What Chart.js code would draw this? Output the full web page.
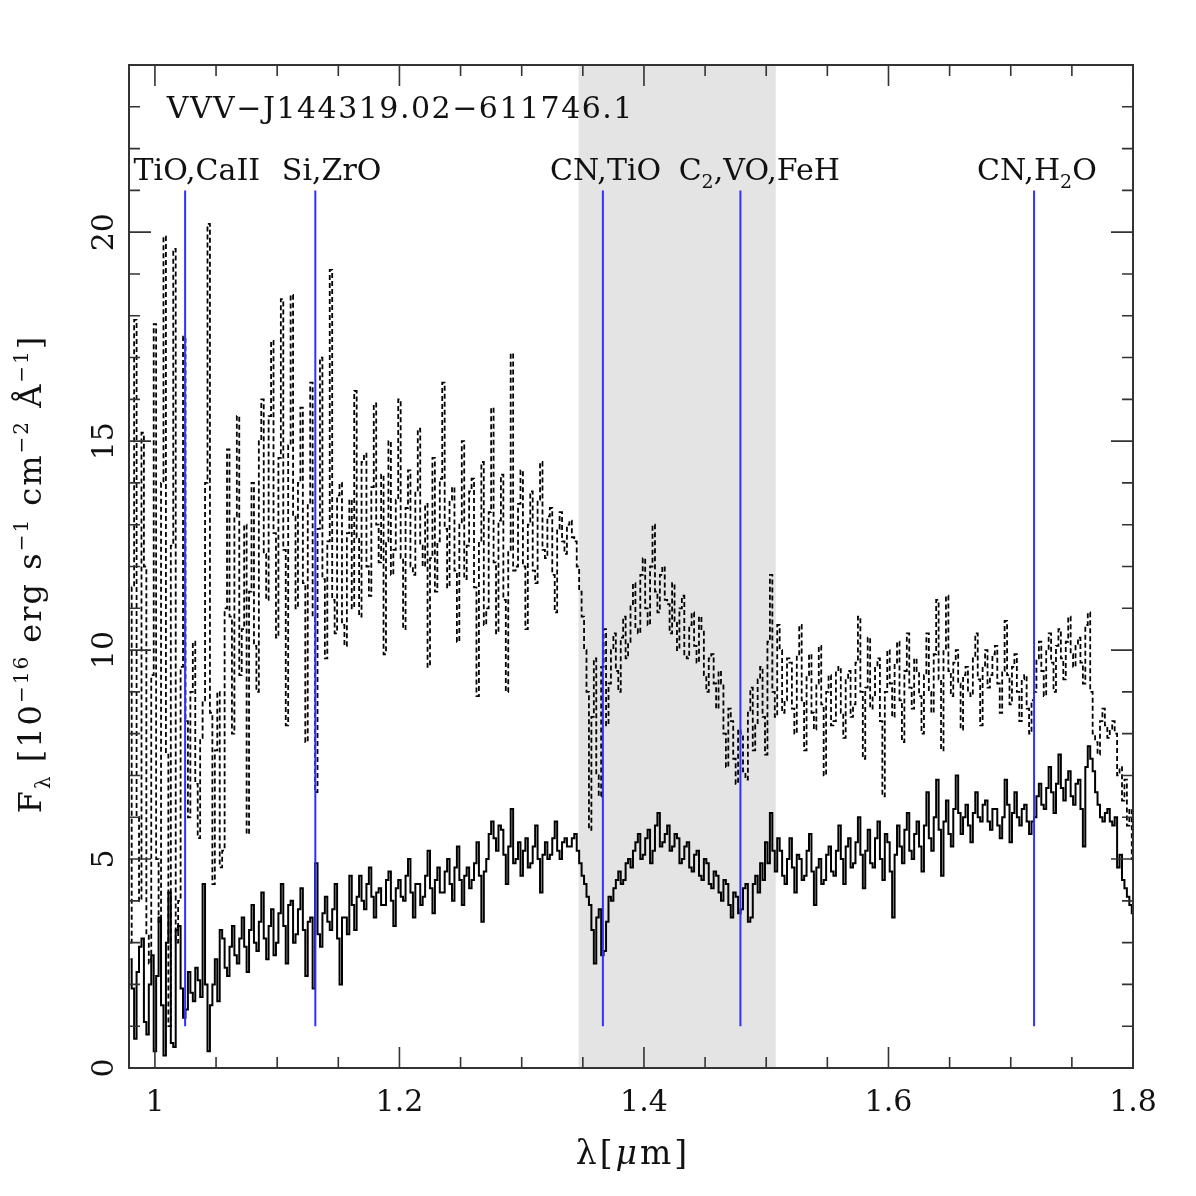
<!DOCTYPE html>
<html>
<head>
<meta charset="utf-8">
<script src="https://cdn.jsdelivr.net/npm/chart.js@4.4.1/dist/chart.umd.min.js"></script>
<style>
  html, body { margin:0; background:#fff; }
  canvas { display:block; }
</style>
</head>
<body>
<canvas id="spec" width="1196" height="1196"></canvas>
<script>
// ====== data (0.002 um bins) ======
const wavelength = [
  0.980,0.982,0.984,0.986,0.988,0.990,0.992,0.994,0.996,0.998,
  1.000,1.002,1.004,1.006,1.008,1.010,1.012,1.014,1.016,1.018,
  1.020,1.022,1.024,1.026,1.028,1.030,1.032,1.034,1.036,1.038,
  1.040,1.042,1.044,1.046,1.048,1.050,1.052,1.054,1.056,1.058,
  1.060,1.062,1.064,1.066,1.068,1.070,1.072,1.074,1.076,1.078,
  1.080,1.082,1.084,1.086,1.088,1.090,1.092,1.094,1.096,1.098,
  1.100,1.102,1.104,1.106,1.108,1.110,1.112,1.114,1.116,1.118,
  1.120,1.122,1.124,1.126,1.128,1.130,1.132,1.134,1.136,1.138,
  1.140,1.142,1.144,1.146,1.148,1.150,1.152,1.154,1.156,1.158,
  1.160,1.162,1.164,1.166,1.168,1.170,1.172,1.174,1.176,1.178,
  1.180,1.182,1.184,1.186,1.188,1.190,1.192,1.194,1.196,1.198,
  1.200,1.202,1.204,1.206,1.208,1.210,1.212,1.214,1.216,1.218,
  1.220,1.222,1.224,1.226,1.228,1.230,1.232,1.234,1.236,1.238,
  1.240,1.242,1.244,1.246,1.248,1.250,1.252,1.254,1.256,1.258,
  1.260,1.262,1.264,1.266,1.268,1.270,1.272,1.274,1.276,1.278,
  1.280,1.282,1.284,1.286,1.288,1.290,1.292,1.294,1.296,1.298,
  1.300,1.302,1.304,1.306,1.308,1.310,1.312,1.314,1.316,1.318,
  1.320,1.322,1.324,1.326,1.328,1.330,1.332,1.334,1.336,1.338,
  1.340,1.342,1.344,1.346,1.348,1.350,1.352,1.354,1.356,1.358,
  1.360,1.362,1.364,1.366,1.368,1.370,1.372,1.374,1.376,1.378,
  1.380,1.382,1.384,1.386,1.388,1.390,1.392,1.394,1.396,1.398,
  1.400,1.402,1.404,1.406,1.408,1.410,1.412,1.414,1.416,1.418,
  1.420,1.422,1.424,1.426,1.428,1.430,1.432,1.434,1.436,1.438,
  1.440,1.442,1.444,1.446,1.448,1.450,1.452,1.454,1.456,1.458,
  1.460,1.462,1.464,1.466,1.468,1.470,1.472,1.474,1.476,1.478,
  1.480,1.482,1.484,1.486,1.488,1.490,1.492,1.494,1.496,1.498,
  1.500,1.502,1.504,1.506,1.508,1.510,1.512,1.514,1.516,1.518,
  1.520,1.522,1.524,1.526,1.528,1.530,1.532,1.534,1.536,1.538,
  1.540,1.542,1.544,1.546,1.548,1.550,1.552,1.554,1.556,1.558,
  1.560,1.562,1.564,1.566,1.568,1.570,1.572,1.574,1.576,1.578,
  1.580,1.582,1.584,1.586,1.588,1.590,1.592,1.594,1.596,1.598,
  1.600,1.602,1.604,1.606,1.608,1.610,1.612,1.614,1.616,1.618,
  1.620,1.622,1.624,1.626,1.628,1.630,1.632,1.634,1.636,1.638,
  1.640,1.642,1.644,1.646,1.648,1.650,1.652,1.654,1.656,1.658,
  1.660,1.662,1.664,1.666,1.668,1.670,1.672,1.674,1.676,1.678,
  1.680,1.682,1.684,1.686,1.688,1.690,1.692,1.694,1.696,1.698,
  1.700,1.702,1.704,1.706,1.708,1.710,1.712,1.714,1.716,1.718,
  1.720,1.722,1.724,1.726,1.728,1.730,1.732,1.734,1.736,1.738,
  1.740,1.742,1.744,1.746,1.748,1.750,1.752,1.754,1.756,1.758,
  1.760,1.762,1.764,1.766,1.768,1.770,1.772,1.774,1.776,1.778,
  1.780,1.782,1.784,1.786,1.788,1.790,1.792,1.794,1.796,1.798,
  1.800
];

// lower spectrum (solid)
const fluxSolid = [
  2.6,1.9,0.7,2.3,2.9,3.1,1.1,0.8,2.0,2.7,
  0.4,2.2,3.6,1.5,0.3,3.0,4.2,0.6,0.5,3.3,
  3.4,1.9,1.2,1.4,2.3,1.8,1.6,2.4,2.1,1.7,
  4.4,2.0,0.4,1.5,2.0,2.6,1.6,3.3,3.1,2.4,
  2.2,2.9,3.4,2.7,2.5,3.1,3.6,2.9,2.3,3.3,
  3.9,3.0,2.8,3.5,4.2,3.1,2.6,3.4,3.8,2.7,
  3.0,3.7,4.4,3.4,2.5,3.9,4.0,3.0,3.2,3.8,
  4.3,3.3,2.2,3.5,3.6,1.9,4.9,3.2,2.9,3.7,
  4.1,3.5,3.3,3.8,4.4,3.1,2.0,3.6,3.6,3.2,
  4.6,3.9,3.3,4.1,4.6,4.0,3.8,4.4,4.8,4.1,
  3.6,4.2,4.3,3.9,3.9,4.5,4.7,4.0,3.4,4.3,
  4.5,4.1,4.0,4.6,5.0,4.2,3.6,4.4,4.4,3.9,
  4.1,4.6,5.2,4.3,3.7,4.5,4.8,4.2,4.2,4.7,
  5.0,4.4,4.0,4.8,5.3,4.5,3.9,4.6,4.8,4.3,
  4.5,4.9,5.4,4.6,3.5,4.7,5.0,5.6,5.9,5.5,
  5.2,5.8,5.7,5.1,4.4,5.3,6.2,4.9,5.0,5.4,
  4.6,5.2,5.5,4.8,4.9,5.3,5.8,5.0,4.2,5.1,
  5.4,5.0,5.1,5.5,5.9,5.2,5.0,5.4,5.5,5.3,
  5.3,5.5,5.6,5.2,4.9,4.6,4.4,4.1,3.9,3.3,
  2.5,3.6,3.8,2.7,2.8,3.5,4.1,4.0,4.3,4.5,
  4.7,4.4,4.5,4.9,5.0,4.8,5.2,5.4,5.6,5.0,
  5.1,5.5,5.7,4.9,5.2,5.8,6.1,5.3,5.4,5.6,
  5.8,5.2,5.3,5.6,5.5,4.9,5.0,5.3,5.4,4.8,
  4.7,5.1,5.2,4.6,4.5,5.0,4.9,4.4,4.3,4.7,
  4.6,4.2,4.0,4.5,4.4,3.9,3.6,4.2,4.1,3.7,
  3.8,4.3,4.4,3.5,3.6,4.4,4.6,4.2,4.9,4.5,
  5.4,4.9,6.1,5.2,4.7,5.5,5.2,4.6,4.4,5.0,
  5.5,4.8,4.2,5.1,5.0,4.5,4.6,5.2,5.6,4.7,
  3.9,4.8,5.0,4.4,4.5,5.1,5.3,4.7,4.6,5.2,
  5.8,5.0,4.4,5.3,5.5,4.8,4.9,5.4,6.0,5.1,
  4.3,5.2,5.7,4.9,4.8,5.5,5.9,5.0,4.5,5.6,
  5.4,4.7,3.6,5.1,5.8,5.3,4.9,5.7,6.1,5.2,
  5.0,5.6,5.9,5.3,4.7,5.8,6.6,5.5,5.2,6.0,
  6.9,5.7,4.6,5.9,6.4,5.6,5.3,6.2,7.0,6.1,
  5.6,6.0,6.3,5.8,5.4,6.1,6.6,6.0,5.9,6.3,
  6.4,5.9,5.7,6.2,6.2,5.8,5.5,6.0,6.9,6.3,
  5.4,6.1,6.6,6.0,5.8,6.2,6.3,5.9,5.6,5.9,
  6.0,6.5,6.8,6.3,6.2,6.7,7.2,6.6,6.1,6.8,
  7.5,6.7,6.4,6.9,7.1,6.5,6.3,6.8,6.9,6.2,
  5.3,7.2,7.7,7.4,7.1,6.6,6.3,6.0,5.9,6.1,
  6.2,5.9,5.8,6.0,4.8,5.1,4.5,4.3,4.1,3.9,
  3.7
];

// upper spectrum (dashed)
const fluxDashed = [
  3.0,11.5,17.9,6.0,4.0,15.2,12.0,3.2,2.5,9.4,
  17.8,5.0,3.5,14.0,19.9,7.5,1.0,12.5,19.6,3.0,
  4.0,9.6,17.5,8.3,6.0,9.0,10.2,6.8,5.5,7.9,
  8.8,14.0,20.2,8.5,4.4,7.6,9.0,4.8,5.2,11.0,
  14.8,10.8,8.0,13.2,15.6,9.4,10.5,13.0,5.6,11.4,
  14.0,10.1,9.0,15.0,16.0,12.3,11.2,15.6,17.4,12.8,
  10.3,14.6,18.4,12.4,8.2,14.9,18.5,13.2,11.0,14.0,
  15.8,11.6,7.8,13.5,16.4,10.8,6.6,12.9,17.0,11.7,
  9.8,12.6,19.1,11.2,10.4,13.7,14.0,10.6,10.1,12.8,
  13.6,11.0,16.2,12.7,10.8,14.5,14.7,12.0,11.3,13.9,
  15.9,13.0,12.1,14.2,9.9,12.6,15.0,11.8,12.4,13.6,
  16.0,12.2,10.5,13.4,14.3,12.0,11.8,13.8,15.3,12.5,
  12.0,13.5,9.6,12.2,14.6,11.4,12.6,14.1,16.4,12.9,
  11.5,13.6,13.9,11.9,10.2,13.0,15.0,11.7,12.5,13.8,
  14.1,11.5,8.9,12.6,14.5,10.6,11.0,13.3,15.8,12.1,
  10.4,13.1,14.2,11.2,9.0,12.4,17.1,11.9,12.0,13.5,
  14.3,12.0,10.5,13.0,13.8,11.9,11.6,13.6,14.5,12.4,
  12.2,13.2,13.4,11.8,10.9,12.9,13.3,12.6,12.3,13.0,
  13.1,12.7,12.6,12.0,11.4,10.8,10.0,9.0,5.7,8.4,
  9.8,7.0,6.5,9.6,10.5,8.2,9.2,10.0,10.4,9.5,
  9.0,10.3,10.8,9.8,10.2,11.1,11.6,10.5,10.4,11.8,
  12.2,11.0,10.6,12.0,13.0,11.4,10.9,11.8,12.0,11.2,
  11.1,10.4,11.6,10.7,10.0,11.0,11.3,9.9,9.8,10.6,
  10.9,10.1,9.7,10.8,10.5,9.4,9.0,9.8,9.9,9.2,
  8.6,9.5,9.2,8.0,7.2,8.6,8.3,7.4,6.8,8.1,
  8.0,7.1,6.9,8.5,9.1,7.6,8.2,9.3,9.6,8.4,
  7.5,10.2,11.8,9.0,8.4,10.6,10.0,8.5,8.8,9.8,
  9.7,8.6,8.0,9.9,10.6,8.8,7.6,9.4,9.9,8.5,
  8.1,9.2,10.1,8.7,7.0,9.0,9.4,8.2,8.3,9.5,
  9.6,8.5,7.9,9.3,9.5,8.4,8.7,9.7,10.8,9.0,
  7.4,9.1,10.3,8.6,8.9,9.6,9.8,8.3,6.5,9.0,
  10.0,9.2,8.4,9.7,10.2,8.8,7.8,9.5,10.4,9.1,
  8.6,9.8,9.5,8.9,8.0,9.4,10.4,9.0,8.5,9.9,
  11.2,9.3,7.6,10.0,11.3,9.5,8.9,9.7,10.0,9.2,
  8.1,9.4,9.6,9.0,8.9,9.8,10.4,9.3,8.2,9.6,
  10.0,9.1,9.4,9.9,10.1,9.2,8.5,9.5,10.7,9.4,
  8.7,9.6,9.9,9.0,8.3,9.3,9.4,8.6,8.0,8.8,
  9.0,9.8,10.2,9.5,8.9,10.0,10.4,9.7,9.0,10.1,
  10.5,9.8,9.3,10.2,10.8,9.9,9.6,10.1,10.3,9.7,
  9.2,10.6,10.9,9.0,8.0,7.8,7.5,8.3,8.6,8.2,
  7.9,8.1,8.3,8.0,7.0,7.2,6.4,6.9,5.8,6.2,
  5.0
];

// molecular features (blue markers) and shaded band
const featureWavelengths = [1.0247, 1.1312, 1.3664, 1.4789, 1.7191];
const featureSpan = [1, 21];
const featureNames = [
  [{t:'TiO,CaII'}],
  [{t:'Si,ZrO'}],
  [{t:'CN,TiO'}],
  [{t:'C'},{t:'2',sub:true},{t:',VO,FeH'}],
  [{t:'CN,H'},{t:'2',sub:true},{t:'O'}]
];
const featureLabelAt = [1.0343, 1.1445, 1.3686, 1.4943, 1.7214];
const bandRange = [1.3465, 1.5078];

// axes
const xRange = [0.9788, 1.8];
const yRange = [0, 24];
const xMajorTicks = [1.0, 1.2, 1.4, 1.6, 1.8];
const xTickLabels = ['1', '1.2', '1.4', '1.6', '1.8'];
const xMinorTicks = [1.05,1.10,1.15,1.25,1.30,1.35,1.45,1.50,1.55,1.65,1.70,1.75];
const yMajorTicks = [0, 5, 10, 15, 20];
const yTickLabels = ['0', '5', '10', '15', '20'];
const yMinorTicks = [1,2,3,4,6,7,8,9,11,12,13,14,16,17,18,19,21,22,23,24];

const objectName = 'VVV\u2212J144319.02\u2212611746.1';

// ====== text helpers ======
const FONT = '"DejaVu Serif", "Liberation Serif", serif';
function fontFor(p, size){
  const s = (p.sub || p.sup) ? Math.round(size*0.62) : size;
  return (p.it ? 'italic ' : '') + s + 'px ' + FONT;
}
function richWidth(ctx, parts, size){
  let w = 0;
  for(const p of parts){ ctx.font = fontFor(p,size); w += ctx.measureText(p.t).width; }
  return w;
}
function drawRich(ctx, parts, x, y, size, align){
  let cx = align === 'center' ? x - richWidth(ctx, parts, size)/2 : x;
  ctx.textAlign = 'left';
  ctx.textBaseline = 'alphabetic';
  for(const p of parts){
    ctx.font = fontFor(p,size);
    const dy = p.sub ? size*0.28 : (p.sup ? -size*0.42 : 0);
    ctx.fillText(p.t, cx, y + dy);
    cx += ctx.measureText(p.t).width;
  }
}

// ====== frame, ticks, labels (PGPLOT style) ======
const framePlugin = {
  id: 'pgFrame',
  beforeDatasetsDraw(chart){
    const {ctx, chartArea:a, scales:{x}} = chart;
    ctx.save();
    ctx.fillStyle = '#e4e4e4';
    const x0 = x.getPixelForValue(bandRange[0]), x1 = x.getPixelForValue(bandRange[1]);
    ctx.fillRect(x0, a.top, x1 - x0, a.bottom - a.top);
    ctx.restore();
  },
  afterDraw(chart){
    const {ctx, chartArea:a, scales:{x, y}} = chart;
    ctx.save();
    ctx.strokeStyle = '#333';
    ctx.lineWidth = 2;
    ctx.strokeRect(a.left, a.top, a.right - a.left, a.bottom - a.top);

    // ticks on all four sides, pointing inwards
    ctx.lineWidth = 1.6;
    ctx.beginPath();
    const xt = (v, len) => {
      const px = x.getPixelForValue(v);
      ctx.moveTo(px, a.bottom); ctx.lineTo(px, a.bottom - len);
      ctx.moveTo(px, a.top);    ctx.lineTo(px, a.top + len);
    };
    const yt = (v, len) => {
      const py = y.getPixelForValue(v);
      ctx.moveTo(a.left, py);  ctx.lineTo(a.left + len, py);
      ctx.moveTo(a.right, py); ctx.lineTo(a.right - len, py);
    };
    xMajorTicks.forEach(v => xt(v, 21));
    xMinorTicks.forEach(v => xt(v, 11));
    yMajorTicks.forEach(v => yt(v, 22));
    yMinorTicks.forEach(v => yt(v, 11));
    ctx.stroke();

    ctx.fillStyle = '#111';
    ctx.font = '30px ' + FONT;
    ctx.textAlign = 'center';
    ctx.textBaseline = 'alphabetic';
    xMajorTicks.forEach((v,i) => ctx.fillText(xTickLabels[i], x.getPixelForValue(v), 1111));
    yMajorTicks.forEach((v,i) => {
      ctx.save();
      ctx.translate(113, y.getPixelForValue(v));
      ctx.rotate(-Math.PI/2);
      ctx.fillText(yTickLabels[i], 0, 0);
      ctx.restore();
    });

    // object name
    ctx.letterSpacing = '1.5px';
    ctx.textAlign = 'left';
    ctx.fillText(objectName, x.getPixelForValue(1.0097), y.getPixelForValue(22.73));
    ctx.letterSpacing = '0px';

    // feature labels
    featureNames.forEach((parts,i) =>
      drawRich(ctx, parts, x.getPixelForValue(featureLabelAt[i]), y.getPixelForValue(21.25), 30, 'center'));

    // axis titles
    ctx.letterSpacing = '3px';
    drawRich(ctx, [{t:'\u03bb['},{t:'\u03bc',it:true},{t:'m]'}], 633, 1164, 33, 'center');
    ctx.letterSpacing = '2px';
    ctx.save();
    ctx.translate(41, 574);
    ctx.rotate(-Math.PI/2);
    drawRich(ctx, [
      {t:'F'},{t:'\u03bb',sub:true},{t:' [10'},{t:'\u221216',sup:true},
      {t:' erg s'},{t:'\u22121',sup:true},{t:' cm'},{t:'\u22122',sup:true},
      {t:' \u00c5'},{t:'\u22121',sup:true},{t:']'}
    ], 0, 0, 32, 'center');
    ctx.restore();
    ctx.restore();
  }
};

// ====== datasets ======
const toPoints = arr => wavelength.map((w,i) => ({x:w, y:arr[i]}));

const featureSets = featureWavelengths.map(w => ({
  data: featureSpan.map(v => ({x:w, y:v})),
  borderColor: '#2f2fff',
  borderWidth: 2,
  pointRadius: 0,
  order: 0
}));

new Chart(document.getElementById('spec').getContext('2d'), {
  type: 'line',
  data: {
    datasets: [
      ...featureSets,
      {
        label: 'dashed',
        data: toPoints(fluxDashed),
        borderColor: '#000',
        borderWidth: 1.8,
        borderDash: [5,3],
        stepped: 'middle',
        pointRadius: 0,
        order: 1
      },
      {
        label: 'solid',
        data: toPoints(fluxSolid),
        borderColor: '#000',
        borderWidth: 2,
        stepped: 'middle',
        pointRadius: 0,
        order: 2
      }
    ]
  },
  options: {
    responsive: false,
    animation: false,
    devicePixelRatio: 1,
    layout: { padding: { left:129, top:65, right:63, bottom:128 } },
    plugins: { legend:{ display:false }, tooltip:{ enabled:false } },
    scales: {
      x: { type:'linear', min:xRange[0], max:xRange[1], display:false },
      y: { type:'linear', min:yRange[0], max:yRange[1], display:false }
    }
  },
  plugins: [framePlugin]
});
</script>
</body>
</html>
